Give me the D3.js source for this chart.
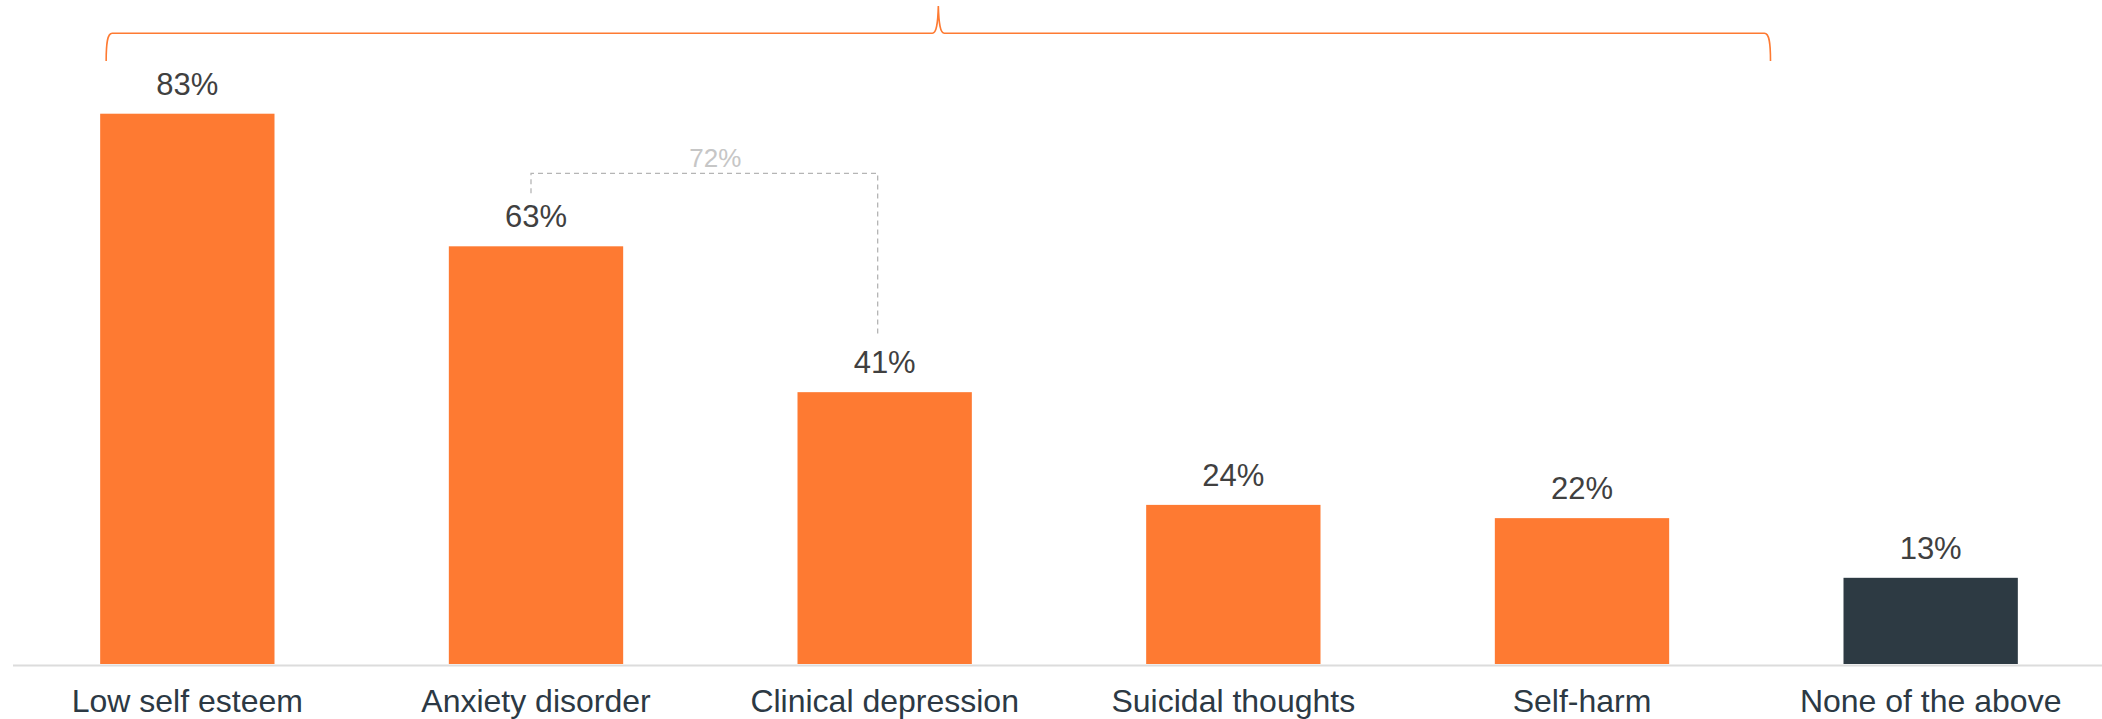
<!DOCTYPE html>
<html>
<head>
    <title>Bar chart</title>
    <script src="https://d3js.org/d3.v7.min.js"></script>
    <style>
        body { margin: 0; background: #fff; }
        #chart { width: 2102px; height: 719px; }
        .value-label { font-family: "Liberation Sans", Arial, sans-serif; font-size: 31px; fill: #404040; }
        .cat-label { font-family: "Liberation Sans", Arial, sans-serif; font-size: 32px; fill: #2c3944; }
        .note-label { font-family: "Liberation Sans", Arial, sans-serif; font-size: 26px; fill: #c6c6c6; }
    </style>
</head>
<body>
    <div id="chart"></div>
    <script>
        // data
        const categories = ["Low self esteem", "Anxiety disorder", "Clinical depression", "Suicidal thoughts", "Self-harm", "None of the above"];
        const values = [83, 63, 41, 24, 22, 13];
        const highlight = [false, false, false, false, false, true];
        const combinedLabel = "72%";

        const width = 2102, height = 719;
        const baseY = 664;
        const orange = "#fe7a32", dark = "#2d3a43";

        const svg = d3.select("#chart").append("svg")
            .attr("width", width)
            .attr("height", height);

        const x = d3.scaleBand()
            .domain(categories)
            .range([13, 2105])
            .paddingInner(0.5)
            .paddingOuter(0.25);

        const y = d3.scaleLinear()
            .domain([0, 100])
            .range([baseY, 1]);

        // axis line
        svg.append("line")
            .attr("x1", 13).attr("x2", width)
            .attr("y1", baseY + 1.5).attr("y2", baseY + 1.5)
            .style("stroke", "#dcdcdc")
            .style("stroke-width", 2);

        // bars
        svg.selectAll(".bar")
            .data(categories)
            .enter()
            .append("rect")
            .attr("class", "bar")
            .attr("x", d => x(d))
            .attr("y", (d, i) => y(values[i]))
            .attr("width", x.bandwidth())
            .attr("height", (d, i) => baseY - y(values[i]))
            .style("fill", (d, i) => highlight[i] ? dark : orange);

        // value labels
        svg.selectAll(".value-label")
            .data(categories)
            .enter()
            .append("text")
            .attr("class", "value-label")
            .attr("x", d => x(d) + x.bandwidth() / 2)
            .attr("y", (d, i) => y(values[i]) - 19)
            .attr("text-anchor", "middle")
            .text((d, i) => values[i] + "%");

        // category labels
        svg.selectAll(".cat-label")
            .data(categories)
            .enter()
            .append("text")
            .attr("class", "cat-label")
            .attr("x", d => x(d) + x.bandwidth() / 2)
            .attr("y", 712)
            .attr("text-anchor", "middle")
            .text(d => d);

        // top brace over the first five bars
        const bl = x(categories[0]) + 6;
        const br = x(categories[5]) - 73;
        const bm = (bl + br) / 2;
        const lineY = 33.3, tipY = 6, endY = 61;
        const brace = d3.path();
        brace.moveTo(bl, endY);
        brace.bezierCurveTo(bl, 42, bl + 1.5, lineY, bl + 6, lineY);
        brace.lineTo(bm - 6, lineY);
        brace.bezierCurveTo(bm - 2, lineY, bm - 0.5, 24, bm, tipY);
        brace.bezierCurveTo(bm + 0.5, 24, bm + 2, lineY, bm + 6, lineY);
        brace.lineTo(br - 6, lineY);
        brace.bezierCurveTo(br - 1.5, lineY, br, 42, br, endY);
        svg.append("path")
            .attr("d", brace.toString())
            .style("fill", "none")
            .style("stroke", orange)
            .style("stroke-width", 1.6);

        // dashed connector between anxiety and depression
        const dx1 = x(categories[1]) + x.bandwidth() / 2 - 5;
        const dx2 = x(categories[2]) + x.bandwidth() / 2 - 7;
        const dTop = 173.3;
        svg.append("path")
            .attr("d", `M${dx1},${y(values[1]) - 53}V${dTop}H${dx2}V${y(values[2]) - 56}`)
            .style("fill", "none")
            .style("stroke", "#b5b5b5")
            .style("stroke-width", 1.3)
            .style("stroke-dasharray", "5,4");

        svg.append("text")
            .attr("class", "note-label")
            .attr("x", (dx1 + dx2) / 2 + 11)
            .attr("y", 166.7)
            .attr("text-anchor", "middle")
            .text(combinedLabel);
    </script>
</body>
</html>
